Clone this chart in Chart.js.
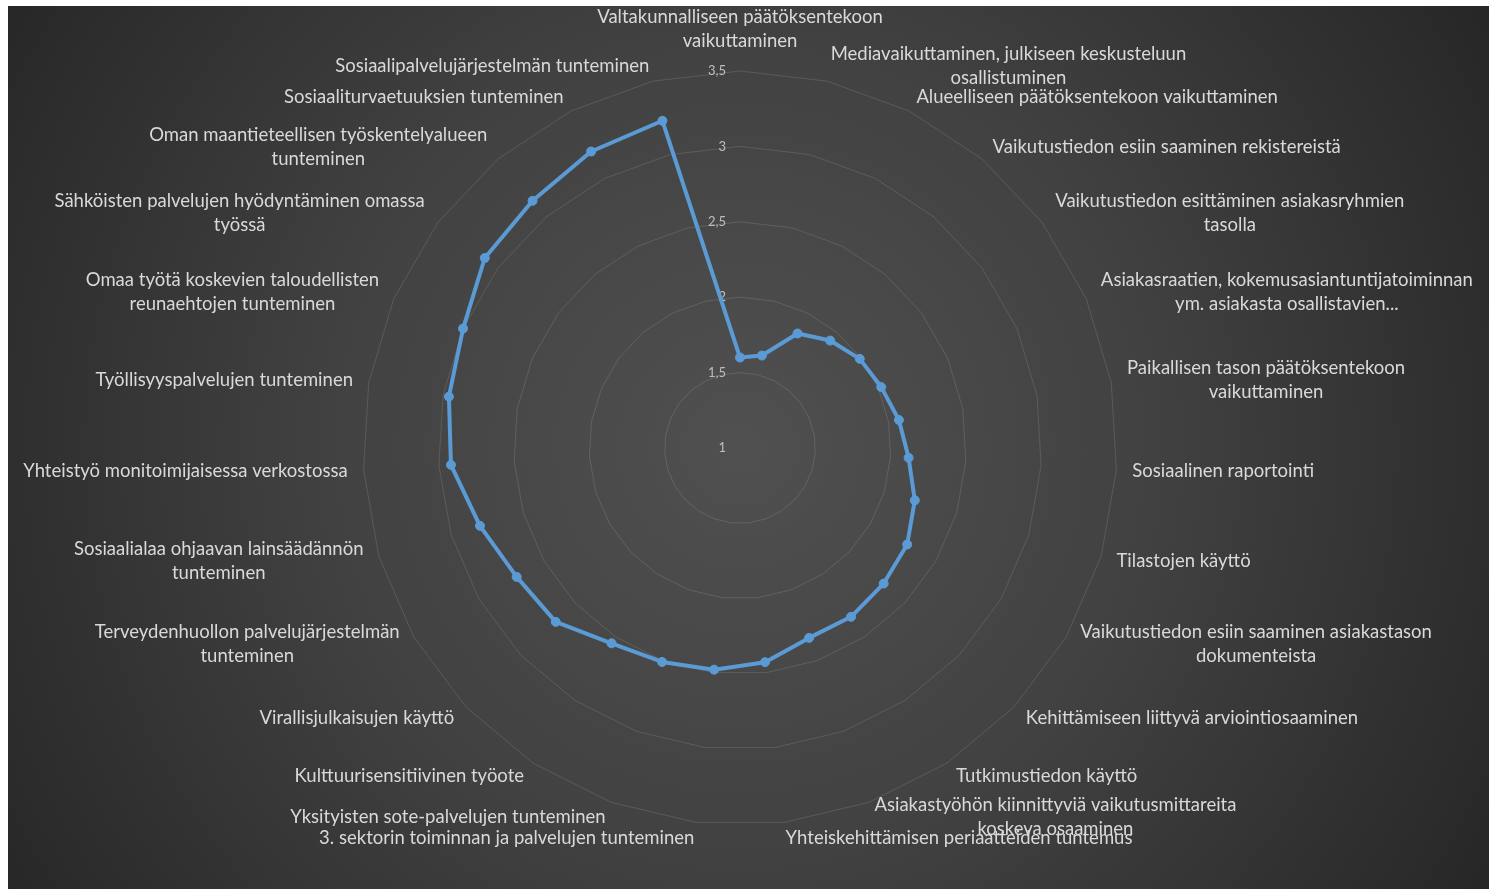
<!DOCTYPE html>
<html>
<head>
<meta charset="utf-8">
<script src="https://cdn.jsdelivr.net/npm/chart.js@4/dist/chart.umd.min.js"></script>
<style>
  html, body { margin: 0; padding: 0; background: #fff; }
  #wrap { position: absolute; left: 8px; top: 6px; width: 1481px; height: 883px; }
</style>
</head>
<body>
<div id="wrap"><canvas id="radar" width="1481" height="883"></canvas></div>
<script>
"use strict";

// categories, clockwise from the top
const categories = [
  ['Valtakunnalliseen päätöksentekoon', 'vaikuttaminen'],
  ['Mediavaikuttaminen, julkiseen keskusteluun', 'osallistuminen'],
  ['Alueelliseen päätöksentekoon vaikuttaminen'],
  ['Vaikutustiedon esiin saaminen rekistereistä'],
  ['Vaikutustiedon esittäminen asiakasryhmien', 'tasolla'],
  ['Asiakasraatien, kokemusasiantuntijatoiminnan', 'ym. asiakasta osallistavien...'],
  ['Paikallisen tason päätöksentekoon', 'vaikuttaminen'],
  ['Sosiaalinen raportointi'],
  ['Tilastojen käyttö'],
  ['Vaikutustiedon esiin saaminen asiakastason', 'dokumenteista'],
  ['Kehittämiseen liittyvä arviointiosaaminen'],
  ['Tutkimustiedon käyttö'],
  ['Asiakastyöhön kiinnittyviä vaikutusmittareita', 'koskeva osaaminen'],
  ['Yhteiskehittämisen periaatteiden tuntemus'],
  ['3. sektorin toiminnan ja palvelujen tunteminen'],
  ['Yksityisten sote-palvelujen tunteminen'],
  ['Kulttuurisensitiivinen työote'],
  ['Virallisjulkaisujen käyttö'],
  ['Terveydenhuollon palvelujärjestelmän', 'tunteminen'],
  ['Sosiaalialaa ohjaavan lainsäädännön', 'tunteminen'],
  ['Yhteistyö monitoimijaisessa verkostossa'],
  ['Työllisyyspalvelujen tunteminen'],
  ['Omaa työtä koskevien taloudellisten', 'reunaehtojen tunteminen'],
  ['Sähköisten palvelujen hyödyntäminen omassa', 'työssä'],
  ['Oman maantieteellisen työskentelyalueen', 'tunteminen'],
  ['Sosiaaliturvaetuuksien tunteminen'],
  ['Sosiaalipalvelujärjestelmän tunteminen']
];

// mean scores
const scores = [
  1.60, 1.63, 1.85, 1.93, 1.99, 2.02, 2.07, 2.12, 2.21, 2.28,
  2.31, 2.34, 2.34, 2.43, 2.48, 2.51, 2.55, 2.68, 2.71, 2.80,
  2.92, 2.96, 3.00, 3.11, 3.14, 3.20, 3.23
];

const scaleMin = 1;
const scaleMax = 3.5;
const scaleStep = 0.5;

const labelFont = '18.5px Lato, "Open Sans", sans-serif';
const tickFont = '13px Lato, "Open Sans", sans-serif';

// dark radial background like the excel style
const background = {
  id: 'background',
  beforeDraw(chart) {
    const ctx = chart.ctx;
    const r = chart.scales.r;
    const g = ctx.createRadialGradient(r.xCenter, r.yCenter, 0, r.xCenter, r.yCenter, 880);
    g.addColorStop(0, '#505050');
    g.addColorStop(0.45, '#424242');
    g.addColorStop(1, '#262626');
    ctx.save();
    ctx.fillStyle = g;
    ctx.fillRect(0, 0, chart.width, chart.height);
    ctx.restore();
  }
};

// category labels + tick labels, placed the way excel does it
const labels = {
  id: 'labels',
  beforeDatasetsDraw(chart) {
    const ctx = chart.ctx;
    const scale = chart.scales.r;
    const lineH = 24;
    ctx.save();
    ctx.font = labelFont;
    ctx.fillStyle = '#d9d9d9';
    ctx.textBaseline = 'middle';
    ctx.textAlign = 'center';

    categories.forEach(function(lines, i) {
      const angle = scale.getIndexAngle(i);
      const s = Math.sin(angle);
      const ring = scale.getPointPosition(i, scale.drawingArea);
      const pos = scale.getPointPosition(i, scale.drawingArea + 16);
      const bw = Math.max.apply(null, lines.map(t => ctx.measureText(t).width));
      const bh = lines.length * lineH;
      let cx, cy;
      if (Math.abs(s) < 0.05) {
        cx = pos.x;
        cy = Math.cos(angle) > 0 ? ring.y - 18 - bh / 2 : ring.y + 18 + bh / 2;
      } else {
        cx = s > 0 ? pos.x + bw / 2 : pos.x - bw / 2;
        cy = pos.y;
      }
      lines.forEach(function(t, k) {
        ctx.fillText(t, cx, cy - bh / 2 + lineH * (k + 0.5));
      });
    });

    // tick values on the vertical axis
    ctx.font = tickFont;
    ctx.fillStyle = '#bfbfbf';
    ctx.textAlign = 'right';
    scale.ticks.forEach(function(tk) {
      const y = scale.yCenter - scale.getDistanceFromCenterForValue(tk.value);
      ctx.fillText(String(tk.value).replace('.', ','), scale.xCenter - 14, y);
    });
    ctx.restore();
  }
};

const ctx = document.getElementById('radar').getContext('2d');
const chart = new Chart(ctx, {
  type: 'radar',
  data: {
    labels: categories.map(c => c.join(' ')),
    datasets: [{
      label: 'Osaaminen',
      data: scores,
      borderColor: '#5b9bd5',
      backgroundColor: '#5b9bd5',
      borderWidth: 4,
      borderJoinStyle: 'round',
      pointRadius: 4.5,
      pointBackgroundColor: '#5b9bd5',
      pointBorderColor: '#5b9bd5',
      pointBorderWidth: 1,
      fill: false,
      tension: 0
    }]
  },
  options: {
    responsive: false,
    devicePixelRatio: 1,
    animation: false,
    layout: {
      padding: { left: 232, right: 249, top: 65, bottom: 64 }
    },
    scales: {
      r: {
        min: scaleMin,
        max: scaleMax,
        ticks: { stepSize: scaleStep, display: false },
        grid: { color: 'rgba(255,255,255,0.12)', lineWidth: 1 },
        angleLines: { display: false },
        pointLabels: { display: false }
      }
    },
    plugins: {
      legend: { display: false },
      tooltip: { enabled: false }
    }
  },
  plugins: [background, labels]
});
</script>
</body>
</html>
